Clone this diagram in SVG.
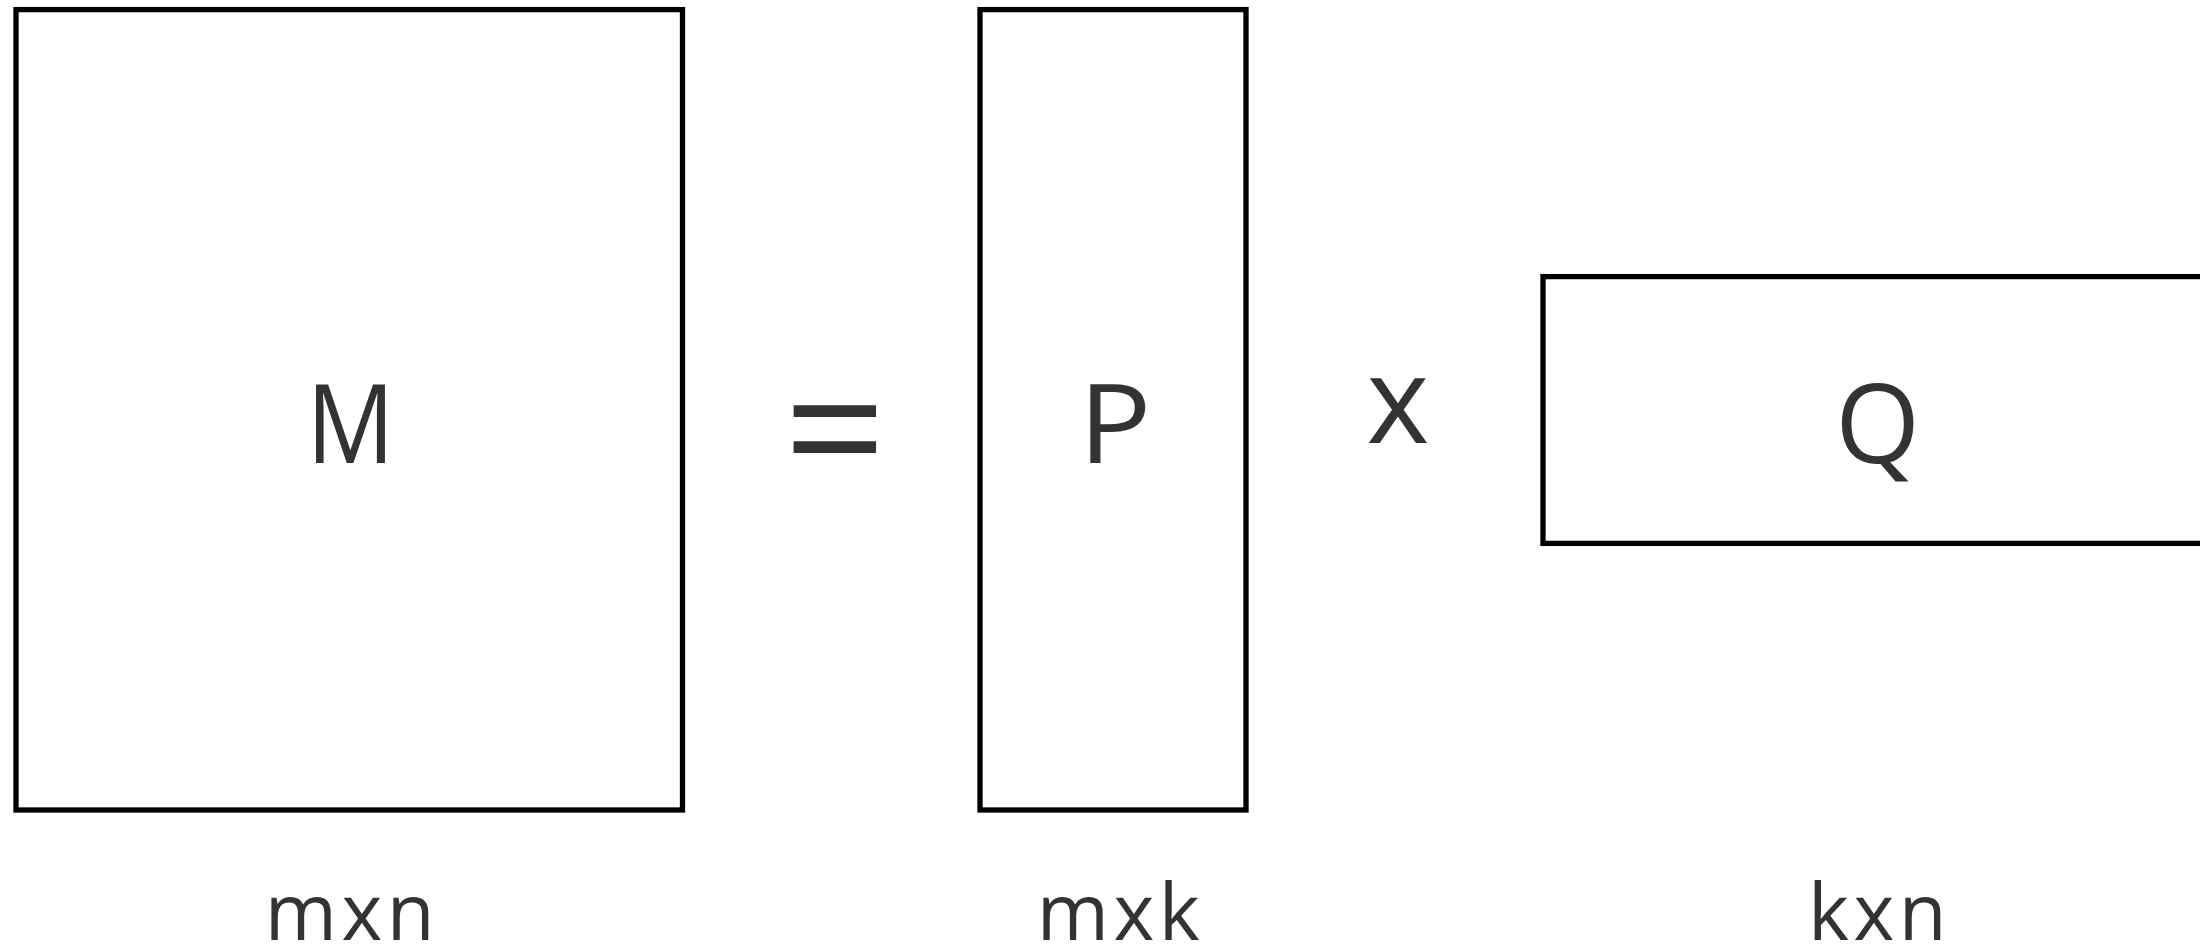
<svg xmlns="http://www.w3.org/2000/svg" width="2200" height="946" viewBox="0 0 2200 946">
<style>
.box{fill:#fff;stroke:#000;stroke-width:5.3}
.big{font-family:"Open Sans","Noto Sans",sans-serif;font-size:109px;fill:#333;text-anchor:middle}
.lbl{font-family:"Open Sans","Noto Sans",sans-serif;font-size:78px;fill:#333;text-anchor:middle;letter-spacing:4.5px}
</style>
<rect width="2200" height="946" fill="#fff"/>
<g id="M">
<rect class="box" x="16" y="9.6" width="666.5" height="800.4"/>
<text class="big" x="350.5" y="463" textLength="88" lengthAdjust="spacingAndGlyphs">M</text>
<text class="lbl" x="352" y="940">mxn</text>
</g>
<g id="eq">
<text class="big" x="835" y="492" style="font-size:180px">=</text>
</g>
<g id="P">
<rect class="box" x="980" y="9.6" width="266" height="800.4"/>
<text class="big" x="1115" y="463" textLength="73" lengthAdjust="spacingAndGlyphs">P</text>
<text class="lbl" x="1120.5" y="940">mxk</text>
</g>
<g id="times">
<text class="big" x="1398" y="443" style="font-size:120px">x</text>
</g>
<g id="Q">
<rect class="box" x="1543" y="276.6" width="720" height="266.8"/>
<text class="big" x="1877.7" y="463">Q</text>
<text class="lbl" x="1879.5" y="940">kxn</text>
</g>
<g id="connectors"></g>
</svg>
